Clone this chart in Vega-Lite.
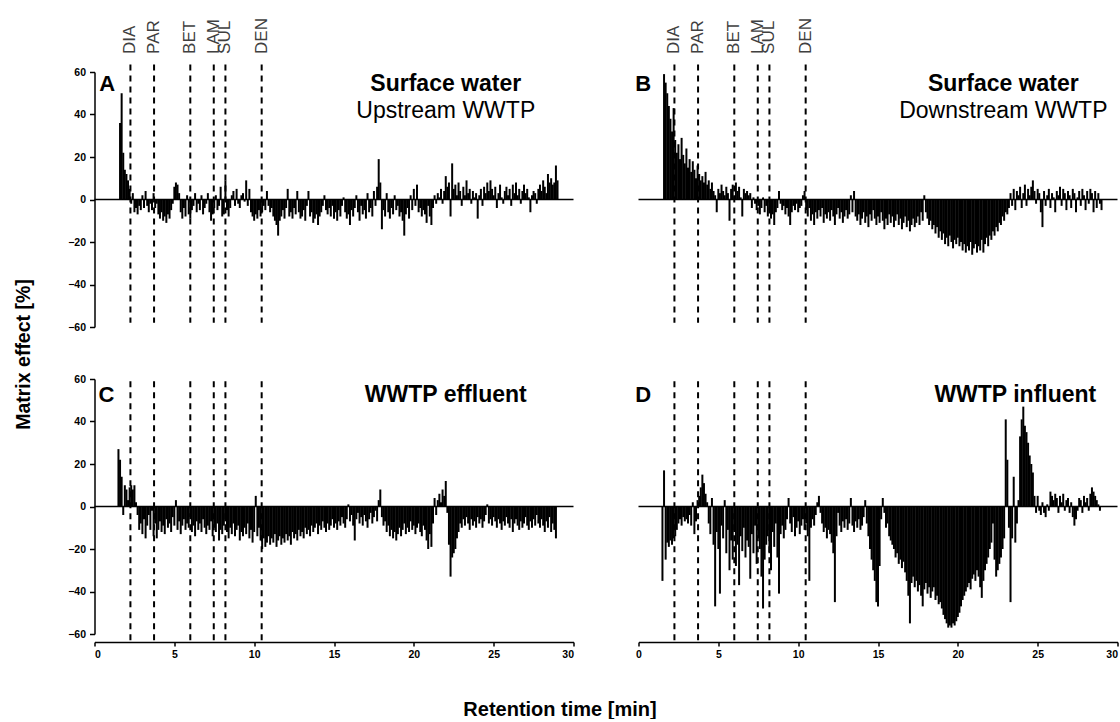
{
"$schema": "https://vega.github.io/schema/vega-lite/v6.json",
"background": "white",
"padding": {"left": 13.5, "top": 18, "right": 0, "bottom": 0},
"config": {
  "view": {"stroke": null},
  "axis": {"labelFont": "Liberation Sans", "labelFontWeight": "bold", "labelFontSize": 10.5, "labelColor": "black", "domainColor": "black", "domainWidth": 1.5, "tickColor": "black", "tickWidth": 1.5, "tickSize": 5, "labelPadding": 4, "grid": false, "titleColor": "black", "titleFont": "Liberation Sans", "titleFontWeight": "bold"},
  "text": {"font": "Liberation Sans", "color": "black"}
},
"datasets": {
"cmp": [{"n":"DIA","t":2.25},{"n":"PAR","t":3.73},{"n":"BET","t":6.0},{"n":"LAM","t":7.47},{"n":"SUL","t":8.2},{"n":"DEN","t":10.47}],
"txt": [
 {"p":"A","k":"l","t":0.3,"y":51,"s":"A"},
 {"p":"A","k":"b","t":22.0,"y":51,"s":"Surface water"},
 {"p":"A","k":"r","t":22.0,"y":38.2,"s":"Upstream WWTP"},
 {"p":"B","k":"l","t":-0.2,"y":51,"s":"B"},
 {"p":"B","k":"b","t":22.85,"y":51,"s":"Surface water"},
 {"p":"B","k":"r","t":22.85,"y":38.2,"s":"Downstream WWTP"},
 {"p":"C","k":"l","t":0.25,"y":49.4,"s":"C"},
 {"p":"C","k":"b","t":22.0,"y":49.4,"s":"WWTP effluent"},
 {"p":"D","k":"l","t":-0.2,"y":49.4,"s":"D"},
 {"p":"D","k":"b","t":23.6,"y":49.4,"s":"WWTP influent"}
],
"A": [{"t":1.6,"v":36},{"t":1.7,"v":50},{"t":1.8,"v":22},{"t":1.9,"v":14},{"t":2.0,"v":12},{"t":2.1,"v":9},{"t":2.2,"v":5},{"t":2.3,"v":-2},{"t":2.4,"v":3},{"t":2.5,"v":-6},{"t":2.6,"v":-4},{"t":2.7,"v":-7},{"t":2.8,"v":-3},{"t":2.9,"v":-5},{"t":3.0,"v":2},{"t":3.1,"v":-4},{"t":3.2,"v":4},{"t":3.3,"v":-3},{"t":3.4,"v":-6},{"t":3.5,"v":-2},{"t":3.6,"v":-5},{"t":3.7,"v":3},{"t":3.8,"v":-4},{"t":3.9,"v":-2},{"t":4.0,"v":-7},{"t":4.1,"v":-9},{"t":4.2,"v":-6},{"t":4.3,"v":-10},{"t":4.4,"v":-8},{"t":4.5,"v":-11},{"t":4.6,"v":-7},{"t":4.7,"v":-9},{"t":4.8,"v":-5},{"t":4.9,"v":-2},{"t":5.0,"v":6},{"t":5.1,"v":8},{"t":5.2,"v":7},{"t":5.3,"v":3},{"t":5.4,"v":-6},{"t":5.5,"v":-9},{"t":5.6,"v":-4},{"t":5.7,"v":-8},{"t":5.8,"v":2},{"t":5.9,"v":-7},{"t":6.0,"v":-9},{"t":6.1,"v":-5},{"t":6.2,"v":-3},{"t":6.3,"v":3},{"t":6.4,"v":-6},{"t":6.5,"v":-2},{"t":6.6,"v":-5},{"t":6.7,"v":2},{"t":6.8,"v":-7},{"t":6.9,"v":-4},{"t":7.0,"v":-2},{"t":7.1,"v":3},{"t":7.2,"v":-6},{"t":7.3,"v":-10},{"t":7.4,"v":-7},{"t":7.5,"v":-4},{"t":7.6,"v":2},{"t":7.7,"v":-5},{"t":7.8,"v":-3},{"t":7.9,"v":6},{"t":8.0,"v":-8},{"t":8.1,"v":-7},{"t":8.2,"v":9},{"t":8.3,"v":-5},{"t":8.4,"v":-8},{"t":8.5,"v":-4},{"t":8.6,"v":2},{"t":8.7,"v":4},{"t":8.8,"v":-3},{"t":8.9,"v":5},{"t":9.0,"v":-2},{"t":9.1,"v":-4},{"t":9.2,"v":2},{"t":9.3,"v":3},{"t":9.4,"v":-1},{"t":9.5,"v":9},{"t":9.6,"v":-3},{"t":9.7,"v":5},{"t":9.8,"v":-6},{"t":9.9,"v":-8},{"t":10.0,"v":-10},{"t":10.1,"v":-7},{"t":10.2,"v":-9},{"t":10.3,"v":-5},{"t":10.4,"v":-8},{"t":10.5,"v":-6},{"t":10.6,"v":-3},{"t":10.7,"v":-5},{"t":10.8,"v":4},{"t":10.9,"v":-3},{"t":11.0,"v":-6},{"t":11.1,"v":-4},{"t":11.2,"v":-8},{"t":11.3,"v":-10},{"t":11.4,"v":-12},{"t":11.5,"v":-17},{"t":11.6,"v":-10},{"t":11.7,"v":-8},{"t":11.8,"v":-5},{"t":11.9,"v":-9},{"t":12.0,"v":-4},{"t":12.1,"v":5},{"t":12.2,"v":-8},{"t":12.3,"v":-6},{"t":12.4,"v":-9},{"t":12.5,"v":-4},{"t":12.6,"v":-7},{"t":12.7,"v":4},{"t":12.8,"v":-6},{"t":12.9,"v":-9},{"t":13.0,"v":-8},{"t":13.1,"v":-5},{"t":13.2,"v":-10},{"t":13.3,"v":-3},{"t":13.4,"v":4},{"t":13.5,"v":-8},{"t":13.6,"v":-6},{"t":13.7,"v":-11},{"t":13.8,"v":-9},{"t":13.9,"v":-7},{"t":14.0,"v":-12},{"t":14.1,"v":-8},{"t":14.2,"v":-6},{"t":14.3,"v":-3},{"t":14.4,"v":2},{"t":14.5,"v":-5},{"t":14.6,"v":-7},{"t":14.7,"v":-4},{"t":14.8,"v":-8},{"t":14.9,"v":-3},{"t":15.0,"v":-9},{"t":15.1,"v":-6},{"t":15.2,"v":-10},{"t":15.3,"v":-5},{"t":15.4,"v":-8},{"t":15.5,"v":-3},{"t":15.6,"v":1},{"t":15.7,"v":-6},{"t":15.8,"v":-9},{"t":15.9,"v":-7},{"t":16.0,"v":-12},{"t":16.1,"v":-5},{"t":16.2,"v":-8},{"t":16.3,"v":-4},{"t":16.4,"v":2},{"t":16.5,"v":-6},{"t":16.6,"v":-10},{"t":16.7,"v":-3},{"t":16.8,"v":-7},{"t":16.9,"v":-5},{"t":17.0,"v":-9},{"t":17.1,"v":3},{"t":17.2,"v":-6},{"t":17.3,"v":-4},{"t":17.4,"v":-8},{"t":17.5,"v":4},{"t":17.6,"v":-3},{"t":17.7,"v":6},{"t":17.8,"v":19},{"t":17.9,"v":8},{"t":18.0,"v":-14},{"t":18.1,"v":-5},{"t":18.2,"v":-8},{"t":18.3,"v":3},{"t":18.4,"v":-6},{"t":18.5,"v":-9},{"t":18.6,"v":-4},{"t":18.7,"v":-7},{"t":18.8,"v":2},{"t":18.9,"v":-5},{"t":19.0,"v":-3},{"t":19.1,"v":-8},{"t":19.2,"v":-6},{"t":19.3,"v":-10},{"t":19.4,"v":-17},{"t":19.5,"v":-7},{"t":19.6,"v":-4},{"t":19.7,"v":-9},{"t":19.8,"v":2},{"t":19.9,"v":-5},{"t":20.0,"v":5},{"t":20.1,"v":-3},{"t":20.2,"v":7},{"t":20.3,"v":-6},{"t":20.4,"v":-4},{"t":20.5,"v":-8},{"t":20.6,"v":-5},{"t":20.7,"v":-7},{"t":20.8,"v":-11},{"t":20.9,"v":-3},{"t":21.0,"v":-8},{"t":21.1,"v":-12},{"t":21.2,"v":-4},{"t":21.3,"v":2},{"t":21.4,"v":-2},{"t":21.5,"v":3},{"t":21.6,"v":1},{"t":21.7,"v":5},{"t":21.8,"v":-2},{"t":21.9,"v":4},{"t":22.0,"v":11},{"t":22.1,"v":6},{"t":22.2,"v":8},{"t":22.3,"v":-8},{"t":22.4,"v":17},{"t":22.5,"v":5},{"t":22.6,"v":7},{"t":22.7,"v":2},{"t":22.8,"v":8},{"t":22.9,"v":4},{"t":23.0,"v":-3},{"t":23.1,"v":6},{"t":23.2,"v":2},{"t":23.3,"v":9},{"t":23.4,"v":3},{"t":23.5,"v":5},{"t":23.6,"v":-2},{"t":23.7,"v":4},{"t":23.8,"v":1},{"t":23.9,"v":3},{"t":24.0,"v":-9},{"t":24.1,"v":2},{"t":24.2,"v":5},{"t":24.3,"v":-3},{"t":24.4,"v":6},{"t":24.5,"v":3},{"t":24.6,"v":8},{"t":24.7,"v":4},{"t":24.8,"v":9},{"t":24.9,"v":5},{"t":25.0,"v":2},{"t":25.1,"v":6},{"t":25.2,"v":-4},{"t":25.3,"v":3},{"t":25.4,"v":7},{"t":25.5,"v":1},{"t":25.6,"v":-2},{"t":25.7,"v":4},{"t":25.8,"v":6},{"t":25.9,"v":2},{"t":26.0,"v":5},{"t":26.1,"v":-3},{"t":26.2,"v":7},{"t":26.3,"v":3},{"t":26.4,"v":8},{"t":26.5,"v":2},{"t":26.6,"v":5},{"t":26.7,"v":-2},{"t":26.8,"v":4},{"t":26.9,"v":7},{"t":27.0,"v":3},{"t":27.1,"v":5},{"t":27.2,"v":1},{"t":27.3,"v":-6},{"t":27.4,"v":2},{"t":27.5,"v":4},{"t":27.6,"v":3},{"t":27.7,"v":-2},{"t":27.8,"v":5},{"t":27.9,"v":7},{"t":28.0,"v":4},{"t":28.1,"v":9},{"t":28.2,"v":6},{"t":28.3,"v":3},{"t":28.4,"v":12},{"t":28.5,"v":8},{"t":28.6,"v":10},{"t":28.7,"v":7},{"t":28.8,"v":8},{"t":28.9,"v":16},{"t":29.0,"v":9}],
"B": [{"t":1.6,"v":59},{"t":1.7,"v":55},{"t":1.8,"v":50},{"t":1.9,"v":44},{"t":2.0,"v":38},{"t":2.1,"v":32},{"t":2.2,"v":43},{"t":2.3,"v":28},{"t":2.4,"v":22},{"t":2.5,"v":26},{"t":2.6,"v":19},{"t":2.7,"v":29},{"t":2.8,"v":21},{"t":2.9,"v":17},{"t":3.0,"v":24},{"t":3.1,"v":15},{"t":3.2,"v":19},{"t":3.3,"v":13},{"t":3.4,"v":18},{"t":3.5,"v":14},{"t":3.6,"v":10},{"t":3.7,"v":16},{"t":3.8,"v":12},{"t":3.9,"v":9},{"t":4.0,"v":11},{"t":4.1,"v":8},{"t":4.2,"v":13},{"t":4.3,"v":7},{"t":4.4,"v":9},{"t":4.5,"v":5},{"t":4.6,"v":8},{"t":4.7,"v":4},{"t":4.8,"v":2},{"t":4.9,"v":-6},{"t":5.0,"v":5},{"t":5.1,"v":3},{"t":5.2,"v":7},{"t":5.3,"v":4},{"t":5.4,"v":2},{"t":5.5,"v":6},{"t":5.6,"v":3},{"t":5.7,"v":-10},{"t":5.8,"v":5},{"t":5.9,"v":7},{"t":6.0,"v":2},{"t":6.1,"v":8},{"t":6.2,"v":4},{"t":6.3,"v":6},{"t":6.4,"v":1},{"t":6.5,"v":-8},{"t":6.6,"v":5},{"t":6.7,"v":3},{"t":6.8,"v":4},{"t":6.9,"v":2},{"t":7.0,"v":3},{"t":7.1,"v":-4},{"t":7.2,"v":1},{"t":7.3,"v":-2},{"t":7.4,"v":-5},{"t":7.5,"v":-3},{"t":7.6,"v":-7},{"t":7.7,"v":-4},{"t":7.8,"v":1},{"t":7.9,"v":-6},{"t":8.0,"v":-3},{"t":8.1,"v":-8},{"t":8.2,"v":-5},{"t":8.3,"v":-9},{"t":8.4,"v":-7},{"t":8.5,"v":-12},{"t":8.6,"v":-6},{"t":8.7,"v":-4},{"t":8.8,"v":4},{"t":8.9,"v":-2},{"t":9.0,"v":-5},{"t":9.1,"v":-3},{"t":9.2,"v":-7},{"t":9.3,"v":-4},{"t":9.4,"v":-8},{"t":9.5,"v":-12},{"t":9.6,"v":-6},{"t":9.7,"v":-3},{"t":9.8,"v":-5},{"t":9.9,"v":-2},{"t":10.0,"v":-6},{"t":10.1,"v":-4},{"t":10.2,"v":-3},{"t":10.3,"v":2},{"t":10.4,"v":4},{"t":10.5,"v":-5},{"t":10.6,"v":-8},{"t":10.7,"v":-4},{"t":10.8,"v":-10},{"t":10.9,"v":-7},{"t":11.0,"v":-12},{"t":11.1,"v":-6},{"t":11.2,"v":-9},{"t":11.3,"v":-5},{"t":11.4,"v":-8},{"t":11.5,"v":-4},{"t":11.6,"v":-11},{"t":11.7,"v":-7},{"t":11.8,"v":-9},{"t":11.9,"v":-6},{"t":12.0,"v":-10},{"t":12.1,"v":-5},{"t":12.2,"v":-8},{"t":12.3,"v":-12},{"t":12.4,"v":-7},{"t":12.5,"v":-4},{"t":12.6,"v":-9},{"t":12.7,"v":-6},{"t":12.8,"v":-11},{"t":12.9,"v":-8},{"t":13.0,"v":-5},{"t":13.1,"v":-9},{"t":13.2,"v":-7},{"t":13.3,"v":2},{"t":13.4,"v":-6},{"t":13.5,"v":4},{"t":13.6,"v":-8},{"t":13.7,"v":-10},{"t":13.8,"v":-7},{"t":13.9,"v":-12},{"t":14.0,"v":-9},{"t":14.1,"v":-6},{"t":14.2,"v":-11},{"t":14.3,"v":-8},{"t":14.4,"v":-13},{"t":14.5,"v":-7},{"t":14.6,"v":-10},{"t":14.7,"v":-5},{"t":14.8,"v":-9},{"t":14.9,"v":-12},{"t":15.0,"v":-8},{"t":15.1,"v":-11},{"t":15.2,"v":-6},{"t":15.3,"v":-10},{"t":15.4,"v":-14},{"t":15.5,"v":-9},{"t":15.6,"v":-12},{"t":15.7,"v":-7},{"t":15.8,"v":-11},{"t":15.9,"v":-8},{"t":16.0,"v":-13},{"t":16.1,"v":-10},{"t":16.2,"v":-7},{"t":16.3,"v":-12},{"t":16.4,"v":-9},{"t":16.5,"v":-14},{"t":16.6,"v":-11},{"t":16.7,"v":-8},{"t":16.8,"v":-13},{"t":16.9,"v":-10},{"t":17.0,"v":-15},{"t":17.1,"v":-12},{"t":17.2,"v":-9},{"t":17.3,"v":-13},{"t":17.4,"v":-11},{"t":17.5,"v":-8},{"t":17.6,"v":-12},{"t":17.7,"v":-6},{"t":17.8,"v":-10},{"t":17.9,"v":2},{"t":18.0,"v":-6},{"t":18.1,"v":-9},{"t":18.2,"v":-12},{"t":18.3,"v":-10},{"t":18.4,"v":-14},{"t":18.5,"v":-12},{"t":18.6,"v":-16},{"t":18.7,"v":-13},{"t":18.8,"v":-18},{"t":18.9,"v":-15},{"t":19.0,"v":-19},{"t":19.1,"v":-16},{"t":19.2,"v":-21},{"t":19.3,"v":-18},{"t":19.4,"v":-22},{"t":19.5,"v":-17},{"t":19.6,"v":-20},{"t":19.7,"v":-23},{"t":19.8,"v":-19},{"t":19.9,"v":-21},{"t":20.0,"v":-18},{"t":20.1,"v":-22},{"t":20.2,"v":-20},{"t":20.3,"v":-24},{"t":20.4,"v":-21},{"t":20.5,"v":-25},{"t":20.6,"v":-22},{"t":20.7,"v":-24},{"t":20.8,"v":-20},{"t":20.9,"v":-26},{"t":21.0,"v":-23},{"t":21.1,"v":-21},{"t":21.2,"v":-25},{"t":21.3,"v":-22},{"t":21.4,"v":-24},{"t":21.5,"v":-19},{"t":21.6,"v":-25},{"t":21.7,"v":-21},{"t":21.8,"v":-18},{"t":21.9,"v":-22},{"t":22.0,"v":-17},{"t":22.1,"v":-19},{"t":22.2,"v":-15},{"t":22.3,"v":-17},{"t":22.4,"v":-13},{"t":22.5,"v":-15},{"t":22.6,"v":-11},{"t":22.7,"v":-12},{"t":22.8,"v":-8},{"t":22.9,"v":-10},{"t":23.0,"v":-6},{"t":23.1,"v":-7},{"t":23.2,"v":-4},{"t":23.3,"v":3},{"t":23.4,"v":-3},{"t":23.5,"v":5},{"t":23.6,"v":-5},{"t":23.7,"v":4},{"t":23.8,"v":2},{"t":23.9,"v":6},{"t":24.0,"v":-4},{"t":24.1,"v":3},{"t":24.2,"v":7},{"t":24.3,"v":-3},{"t":24.4,"v":5},{"t":24.5,"v":2},{"t":24.6,"v":6},{"t":24.7,"v":9},{"t":24.8,"v":4},{"t":24.9,"v":-2},{"t":25.0,"v":5},{"t":25.1,"v":3},{"t":25.2,"v":-6},{"t":25.3,"v":-13},{"t":25.4,"v":4},{"t":25.5,"v":-3},{"t":25.6,"v":2},{"t":25.7,"v":5},{"t":25.8,"v":-4},{"t":25.9,"v":3},{"t":26.0,"v":1},{"t":26.1,"v":-6},{"t":26.2,"v":4},{"t":26.3,"v":2},{"t":26.4,"v":6},{"t":26.5,"v":-3},{"t":26.6,"v":5},{"t":26.7,"v":3},{"t":26.8,"v":-5},{"t":26.9,"v":4},{"t":27.0,"v":2},{"t":27.1,"v":-4},{"t":27.2,"v":5},{"t":27.3,"v":3},{"t":27.4,"v":-6},{"t":27.5,"v":1},{"t":27.6,"v":4},{"t":27.7,"v":-3},{"t":27.8,"v":5},{"t":27.9,"v":2},{"t":28.0,"v":-5},{"t":28.1,"v":4},{"t":28.2,"v":-2},{"t":28.3,"v":5},{"t":28.4,"v":3},{"t":28.5,"v":-6},{"t":28.6,"v":4},{"t":28.7,"v":-4},{"t":28.8,"v":3},{"t":28.9,"v":-2},{"t":29.0,"v":-5}],
"C": [{"t":1.5,"v":27},{"t":1.6,"v":22},{"t":1.7,"v":14},{"t":1.8,"v":-4},{"t":1.9,"v":10},{"t":2.0,"v":8},{"t":2.1,"v":3},{"t":2.2,"v":9},{"t":2.3,"v":10},{"t":2.4,"v":8},{"t":2.5,"v":10},{"t":2.6,"v":2},{"t":2.7,"v":-4},{"t":2.8,"v":-11},{"t":2.9,"v":-8},{"t":3.0,"v":-13},{"t":3.1,"v":-6},{"t":3.2,"v":-15},{"t":3.3,"v":-9},{"t":3.4,"v":-4},{"t":3.5,"v":-11},{"t":3.6,"v":-2},{"t":3.7,"v":-14},{"t":3.8,"v":-8},{"t":3.9,"v":-15},{"t":4.0,"v":-11},{"t":4.1,"v":-7},{"t":4.2,"v":-12},{"t":4.3,"v":-9},{"t":4.4,"v":-13},{"t":4.5,"v":-6},{"t":4.6,"v":-10},{"t":4.7,"v":-8},{"t":4.8,"v":-12},{"t":4.9,"v":-5},{"t":5.0,"v":-9},{"t":5.1,"v":3},{"t":5.2,"v":-11},{"t":5.3,"v":-7},{"t":5.4,"v":-13},{"t":5.5,"v":-9},{"t":5.6,"v":-6},{"t":5.7,"v":-11},{"t":5.8,"v":-8},{"t":5.9,"v":-10},{"t":6.0,"v":-5},{"t":6.1,"v":-12},{"t":6.2,"v":-9},{"t":6.3,"v":-14},{"t":6.4,"v":-7},{"t":6.5,"v":-11},{"t":6.6,"v":-8},{"t":6.7,"v":-12},{"t":6.8,"v":-6},{"t":6.9,"v":-10},{"t":7.0,"v":-13},{"t":7.1,"v":-9},{"t":7.2,"v":-11},{"t":7.3,"v":-7},{"t":7.4,"v":-14},{"t":7.5,"v":-10},{"t":7.6,"v":-12},{"t":7.7,"v":-8},{"t":7.8,"v":-16},{"t":7.9,"v":-11},{"t":8.0,"v":-13},{"t":8.1,"v":-9},{"t":8.2,"v":-7},{"t":8.3,"v":-12},{"t":8.4,"v":-15},{"t":8.5,"v":-10},{"t":8.6,"v":-13},{"t":8.7,"v":-8},{"t":8.8,"v":-14},{"t":8.9,"v":-11},{"t":9.0,"v":-9},{"t":9.1,"v":-16},{"t":9.2,"v":-12},{"t":9.3,"v":-14},{"t":9.4,"v":-10},{"t":9.5,"v":-13},{"t":9.6,"v":-8},{"t":9.7,"v":-15},{"t":9.8,"v":-11},{"t":9.9,"v":-17},{"t":10.0,"v":-12},{"t":10.1,"v":5},{"t":10.2,"v":-14},{"t":10.3,"v":-10},{"t":10.4,"v":-16},{"t":10.5,"v":-20},{"t":10.6,"v":-15},{"t":10.7,"v":-19},{"t":10.8,"v":-17},{"t":10.9,"v":-14},{"t":11.0,"v":-18},{"t":11.1,"v":-15},{"t":11.2,"v":-17},{"t":11.3,"v":-13},{"t":11.4,"v":-19},{"t":11.5,"v":-16},{"t":11.6,"v":-14},{"t":11.7,"v":-18},{"t":11.8,"v":-15},{"t":11.9,"v":-17},{"t":12.0,"v":-13},{"t":12.1,"v":-16},{"t":12.2,"v":-14},{"t":12.3,"v":-18},{"t":12.4,"v":-12},{"t":12.5,"v":-15},{"t":12.6,"v":-13},{"t":12.7,"v":-16},{"t":12.8,"v":-11},{"t":12.9,"v":-14},{"t":13.0,"v":-12},{"t":13.1,"v":-15},{"t":13.2,"v":-10},{"t":13.3,"v":-13},{"t":13.4,"v":-11},{"t":13.5,"v":-14},{"t":13.6,"v":-9},{"t":13.7,"v":-12},{"t":13.8,"v":-10},{"t":13.9,"v":-8},{"t":14.0,"v":-13},{"t":14.1,"v":-9},{"t":14.2,"v":-11},{"t":14.3,"v":-7},{"t":14.4,"v":-10},{"t":14.5,"v":-12},{"t":14.6,"v":-8},{"t":14.7,"v":-11},{"t":14.8,"v":-9},{"t":14.9,"v":-6},{"t":15.0,"v":-10},{"t":15.1,"v":-8},{"t":15.2,"v":-11},{"t":15.3,"v":-7},{"t":15.4,"v":-9},{"t":15.5,"v":-5},{"t":15.6,"v":-8},{"t":15.7,"v":-10},{"t":15.8,"v":-6},{"t":15.9,"v":1},{"t":16.0,"v":-7},{"t":16.1,"v":-4},{"t":16.2,"v":-9},{"t":16.3,"v":-16},{"t":16.4,"v":-6},{"t":16.5,"v":-3},{"t":16.6,"v":-8},{"t":16.7,"v":-5},{"t":16.8,"v":-9},{"t":16.9,"v":-4},{"t":17.0,"v":-7},{"t":17.1,"v":-10},{"t":17.2,"v":-6},{"t":17.3,"v":-3},{"t":17.4,"v":-8},{"t":17.5,"v":-5},{"t":17.6,"v":-2},{"t":17.7,"v":-7},{"t":17.8,"v":3},{"t":17.9,"v":8},{"t":18.0,"v":-5},{"t":18.1,"v":-9},{"t":18.2,"v":-7},{"t":18.3,"v":-12},{"t":18.4,"v":-9},{"t":18.5,"v":-14},{"t":18.6,"v":-11},{"t":18.7,"v":-15},{"t":18.8,"v":-12},{"t":18.9,"v":-16},{"t":19.0,"v":-13},{"t":19.1,"v":-10},{"t":19.2,"v":-14},{"t":19.3,"v":-11},{"t":19.4,"v":-8},{"t":19.5,"v":-13},{"t":19.6,"v":-10},{"t":19.7,"v":-12},{"t":19.8,"v":-7},{"t":19.9,"v":-11},{"t":20.0,"v":-9},{"t":20.1,"v":-13},{"t":20.2,"v":-10},{"t":20.3,"v":-8},{"t":20.4,"v":-12},{"t":20.5,"v":-14},{"t":20.6,"v":-9},{"t":20.7,"v":-11},{"t":20.8,"v":-16},{"t":20.9,"v":-20},{"t":21.0,"v":-13},{"t":21.1,"v":-19},{"t":21.2,"v":-8},{"t":21.3,"v":4},{"t":21.4,"v":-4},{"t":21.5,"v":3},{"t":21.6,"v":6},{"t":21.7,"v":2},{"t":21.8,"v":8},{"t":21.9,"v":5},{"t":22.0,"v":12},{"t":22.1,"v":-3},{"t":22.2,"v":-18},{"t":22.3,"v":-33},{"t":22.4,"v":-24},{"t":22.5,"v":-22},{"t":22.6,"v":-20},{"t":22.7,"v":-15},{"t":22.8,"v":-12},{"t":22.9,"v":-8},{"t":23.0,"v":-10},{"t":23.1,"v":-6},{"t":23.2,"v":-9},{"t":23.3,"v":-5},{"t":23.4,"v":-8},{"t":23.5,"v":-11},{"t":23.6,"v":-6},{"t":23.7,"v":-9},{"t":23.8,"v":-7},{"t":23.9,"v":-10},{"t":24.0,"v":-5},{"t":24.1,"v":-8},{"t":24.2,"v":-6},{"t":24.3,"v":-10},{"t":24.4,"v":-7},{"t":24.5,"v":-4},{"t":24.6,"v":1},{"t":24.7,"v":-8},{"t":24.8,"v":-6},{"t":24.9,"v":-9},{"t":25.0,"v":-5},{"t":25.1,"v":-7},{"t":25.2,"v":-10},{"t":25.3,"v":-6},{"t":25.4,"v":-8},{"t":25.5,"v":-11},{"t":25.6,"v":-7},{"t":25.7,"v":-9},{"t":25.8,"v":-5},{"t":25.9,"v":-8},{"t":26.0,"v":-10},{"t":26.1,"v":-6},{"t":26.2,"v":-12},{"t":26.3,"v":-8},{"t":26.4,"v":-6},{"t":26.5,"v":-9},{"t":26.6,"v":-11},{"t":26.7,"v":-7},{"t":26.8,"v":-10},{"t":26.9,"v":-8},{"t":27.0,"v":-5},{"t":27.1,"v":-9},{"t":27.2,"v":-11},{"t":27.3,"v":-7},{"t":27.4,"v":-10},{"t":27.5,"v":-6},{"t":27.6,"v":-9},{"t":27.7,"v":-4},{"t":27.8,"v":-8},{"t":27.9,"v":-10},{"t":28.0,"v":-6},{"t":28.1,"v":-9},{"t":28.2,"v":-12},{"t":28.3,"v":-7},{"t":28.4,"v":-10},{"t":28.5,"v":-5},{"t":28.6,"v":-12},{"t":28.7,"v":-8},{"t":28.8,"v":-11},{"t":28.9,"v":-15}],
"D": [{"t":1.5,"v":-35},{"t":1.6,"v":17},{"t":1.7,"v":-25},{"t":1.8,"v":-17},{"t":1.9,"v":-19},{"t":2.0,"v":-16},{"t":2.1,"v":-18},{"t":2.2,"v":-15},{"t":2.3,"v":-14},{"t":2.4,"v":-11},{"t":2.5,"v":-8},{"t":2.6,"v":-6},{"t":2.7,"v":-9},{"t":2.8,"v":-5},{"t":2.9,"v":-7},{"t":3.0,"v":-6},{"t":3.1,"v":-8},{"t":3.2,"v":-4},{"t":3.3,"v":-9},{"t":3.4,"v":2},{"t":3.5,"v":-13},{"t":3.6,"v":-7},{"t":3.7,"v":3},{"t":3.8,"v":5},{"t":3.9,"v":9},{"t":4.0,"v":15},{"t":4.1,"v":11},{"t":4.2,"v":6},{"t":4.3,"v":2},{"t":4.4,"v":-8},{"t":4.5,"v":-13},{"t":4.6,"v":4},{"t":4.7,"v":-18},{"t":4.8,"v":-47},{"t":4.9,"v":-12},{"t":5.0,"v":-20},{"t":5.1,"v":-41},{"t":5.2,"v":-9},{"t":5.3,"v":-15},{"t":5.4,"v":3},{"t":5.5,"v":-22},{"t":5.6,"v":-11},{"t":5.7,"v":-30},{"t":5.8,"v":-16},{"t":5.9,"v":-25},{"t":6.0,"v":-12},{"t":6.1,"v":-28},{"t":6.2,"v":-18},{"t":6.3,"v":-37},{"t":6.4,"v":-14},{"t":6.5,"v":-21},{"t":6.6,"v":-10},{"t":6.7,"v":-24},{"t":6.8,"v":-16},{"t":6.9,"v":-19},{"t":7.0,"v":-34},{"t":7.1,"v":-13},{"t":7.2,"v":-22},{"t":7.3,"v":-9},{"t":7.4,"v":-27},{"t":7.5,"v":-15},{"t":7.6,"v":-20},{"t":7.7,"v":-33},{"t":7.8,"v":-48},{"t":7.9,"v":-25},{"t":8.0,"v":-18},{"t":8.1,"v":-14},{"t":8.2,"v":-22},{"t":8.3,"v":-30},{"t":8.4,"v":-12},{"t":8.5,"v":-19},{"t":8.6,"v":-8},{"t":8.7,"v":-24},{"t":8.8,"v":-41},{"t":8.9,"v":-13},{"t":9.0,"v":-9},{"t":9.1,"v":-15},{"t":9.2,"v":-11},{"t":9.3,"v":-6},{"t":9.4,"v":4},{"t":9.5,"v":-8},{"t":9.6,"v":-12},{"t":9.7,"v":-5},{"t":9.8,"v":-14},{"t":9.9,"v":-10},{"t":10.0,"v":-7},{"t":10.1,"v":-13},{"t":10.2,"v":-9},{"t":10.3,"v":-6},{"t":10.4,"v":-11},{"t":10.5,"v":-8},{"t":10.6,"v":-14},{"t":10.7,"v":-35},{"t":10.8,"v":-10},{"t":10.9,"v":-6},{"t":11.0,"v":-9},{"t":11.1,"v":-4},{"t":11.2,"v":2},{"t":11.3,"v":5},{"t":11.4,"v":-3},{"t":11.5,"v":-8},{"t":11.6,"v":-12},{"t":11.7,"v":-10},{"t":11.8,"v":-15},{"t":11.9,"v":-11},{"t":12.0,"v":-13},{"t":12.1,"v":-17},{"t":12.2,"v":-22},{"t":12.3,"v":-45},{"t":12.4,"v":-14},{"t":12.5,"v":-3},{"t":12.6,"v":-9},{"t":12.7,"v":-12},{"t":12.8,"v":-7},{"t":12.9,"v":-10},{"t":13.0,"v":-6},{"t":13.1,"v":-11},{"t":13.2,"v":-8},{"t":13.3,"v":4},{"t":13.4,"v":-9},{"t":13.5,"v":-12},{"t":13.6,"v":-7},{"t":13.7,"v":-10},{"t":13.8,"v":-6},{"t":13.9,"v":-11},{"t":14.0,"v":-9},{"t":14.1,"v":-5},{"t":14.2,"v":3},{"t":14.3,"v":-8},{"t":14.4,"v":-14},{"t":14.5,"v":-20},{"t":14.6,"v":-25},{"t":14.7,"v":-30},{"t":14.8,"v":-35},{"t":14.9,"v":-45},{"t":15.0,"v":-47},{"t":15.1,"v":-28},{"t":15.2,"v":-6},{"t":15.3,"v":4},{"t":15.4,"v":-3},{"t":15.5,"v":-10},{"t":15.6,"v":-8},{"t":15.7,"v":-14},{"t":15.8,"v":-16},{"t":15.9,"v":-18},{"t":16.0,"v":-20},{"t":16.1,"v":-24},{"t":16.2,"v":-22},{"t":16.3,"v":-27},{"t":16.4,"v":-25},{"t":16.5,"v":-29},{"t":16.6,"v":-26},{"t":16.7,"v":-31},{"t":16.8,"v":-35},{"t":16.9,"v":-42},{"t":17.0,"v":-55},{"t":17.1,"v":-36},{"t":17.2,"v":-33},{"t":17.3,"v":-38},{"t":17.4,"v":-35},{"t":17.5,"v":-40},{"t":17.6,"v":-37},{"t":17.7,"v":-42},{"t":17.8,"v":-47},{"t":17.9,"v":-39},{"t":18.0,"v":-36},{"t":18.1,"v":-41},{"t":18.2,"v":-38},{"t":18.3,"v":-43},{"t":18.4,"v":-40},{"t":18.5,"v":-38},{"t":18.6,"v":-44},{"t":18.7,"v":-42},{"t":18.8,"v":-46},{"t":18.9,"v":-45},{"t":19.0,"v":-48},{"t":19.1,"v":-51},{"t":19.2,"v":-53},{"t":19.3,"v":-55},{"t":19.4,"v":-57},{"t":19.5,"v":-56},{"t":19.6,"v":-57},{"t":19.7,"v":-55},{"t":19.8,"v":-56},{"t":19.9,"v":-54},{"t":20.0,"v":-52},{"t":20.1,"v":-50},{"t":20.2,"v":-47},{"t":20.3,"v":-44},{"t":20.4,"v":-42},{"t":20.5,"v":-40},{"t":20.6,"v":-38},{"t":20.7,"v":-36},{"t":20.8,"v":-39},{"t":20.9,"v":-34},{"t":21.0,"v":-32},{"t":21.1,"v":-35},{"t":21.2,"v":-30},{"t":21.3,"v":-33},{"t":21.4,"v":-38},{"t":21.5,"v":-43},{"t":21.6,"v":-35},{"t":21.7,"v":-30},{"t":21.8,"v":-27},{"t":21.9,"v":-24},{"t":22.0,"v":-20},{"t":22.1,"v":-17},{"t":22.2,"v":-8},{"t":22.3,"v":-25},{"t":22.4,"v":-33},{"t":22.5,"v":-30},{"t":22.6,"v":-27},{"t":22.7,"v":-24},{"t":22.8,"v":-20},{"t":22.9,"v":-15},{"t":23.0,"v":41},{"t":23.1,"v":22},{"t":23.2,"v":-10},{"t":23.3,"v":-45},{"t":23.4,"v":-15},{"t":23.5,"v":14},{"t":23.6,"v":-17},{"t":23.7,"v":-8},{"t":23.8,"v":3},{"t":23.9,"v":33},{"t":24.0,"v":41},{"t":24.1,"v":47},{"t":24.2,"v":38},{"t":24.3,"v":35},{"t":24.4,"v":30},{"t":24.5,"v":24},{"t":24.6,"v":20},{"t":24.7,"v":16},{"t":24.8,"v":5},{"t":24.9,"v":-3},{"t":25.0,"v":5},{"t":25.1,"v":-2},{"t":25.2,"v":-4},{"t":25.3,"v":2},{"t":25.4,"v":-3},{"t":25.5,"v":-5},{"t":25.6,"v":1},{"t":25.7,"v":-2},{"t":25.8,"v":7},{"t":25.9,"v":5},{"t":26.0,"v":3},{"t":26.1,"v":6},{"t":26.2,"v":4},{"t":26.3,"v":-3},{"t":26.4,"v":5},{"t":26.5,"v":2},{"t":26.6,"v":6},{"t":26.7,"v":-2},{"t":26.8,"v":3},{"t":26.9,"v":4},{"t":27.0,"v":-3},{"t":27.1,"v":2},{"t":27.2,"v":-5},{"t":27.3,"v":-9},{"t":27.4,"v":-6},{"t":27.5,"v":-2},{"t":27.6,"v":4},{"t":27.7,"v":3},{"t":27.8,"v":-3},{"t":27.9,"v":5},{"t":28.0,"v":2},{"t":28.1,"v":4},{"t":28.2,"v":-2},{"t":28.3,"v":6},{"t":28.4,"v":9},{"t":28.5,"v":7},{"t":28.6,"v":5},{"t":28.7,"v":3},{"t":28.8,"v":1},{"t":28.9,"v":-2}]
},
"columns": 2,
"bounds": "flush",
"spacing": {"row": 52, "column": 65},
"concat": [
{
 "width": 479, "height": 255,
 "layer": [
  {"data": {"name": "A"}, "mark": {"type": "rule", "color": "black", "strokeWidth": 2},
   "encoding": {"x": {"field": "t", "type": "quantitative", "scale": {"domain": [0, 30]}, "axis": null},
    "y": {"field": "v", "type": "quantitative", "scale": {"domain": [-60, 60]}, "axis": {"values": [-60, -40, -20, 0, 20, 40, 60], "title": "Matrix effect [%]", "titleFontSize": 19.5, "titleX": -61, "titleY": 282, "titleAngle": -90, "titleAlign": "center", "titleBaseline": "bottom"}},
    "y2": {"datum": 0}}},
  {"data": {"values": [{}]}, "mark": {"type": "rule", "color": "black", "strokeWidth": 1.5},
   "encoding": {"y": {"datum": 0, "type": "quantitative", "scale": {"domain": [-60, 60]}, "axis": {"values": [-60, -40, -20, 0, 20, 40, 60], "title": "Matrix effect [%]", "titleFontSize": 19.5, "titleX": -61, "titleY": 282, "titleAngle": -90, "titleAlign": "center", "titleBaseline": "bottom"}}}},
  {"data": {"name": "cmp"}, "mark": {"type": "rule", "color": "black", "strokeWidth": 2, "strokeDash": [6, 5]},
   "encoding": {"x": {"field": "t", "type": "quantitative", "scale": {"domain": [0, 30]}, "axis": null},
    "y": {"datum": 63.5, "type": "quantitative", "scale": {"domain": [-60, 60]}, "axis": {"values": [-60, -40, -20, 0, 20, 40, 60], "title": "Matrix effect [%]", "titleFontSize": 19.5, "titleX": -61, "titleY": 282, "titleAngle": -90, "titleAlign": "center", "titleBaseline": "bottom"}}, "y2": {"datum": -58}}},
  {"data": {"name": "cmp"}, "mark": {"type": "text", "angle": 270, "align": "left", "baseline": "middle", "fontSize": 17, "color": "#404040"},
   "encoding": {"x": {"field": "t", "type": "quantitative", "scale": {"domain": [0, 30]}, "axis": null},
    "y": {"datum": 68.5, "type": "quantitative", "scale": {"domain": [-60, 60]}, "axis": {"values": [-60, -40, -20, 0, 20, 40, 60], "title": "Matrix effect [%]", "titleFontSize": 19.5, "titleX": -61, "titleY": 282, "titleAngle": -90, "titleAlign": "center", "titleBaseline": "bottom"}}, "text": {"field": "n"}}},
  {"data": {"name": "txt"}, "transform": [{"filter": "datum.p === 'A' && datum.k === 'l'"}],
   "mark": {"type": "text", "align": "left", "baseline": "alphabetic", "fontSize": 22, "fontWeight": "bold"},
   "encoding": {"x": {"field": "t", "type": "quantitative", "scale": {"domain": [0, 30]}, "axis": null},
    "y": {"field": "y", "type": "quantitative", "scale": {"domain": [-60, 60]}, "axis": {"values": [-60, -40, -20, 0, 20, 40, 60], "title": "Matrix effect [%]", "titleFontSize": 19.5, "titleX": -61, "titleY": 282, "titleAngle": -90, "titleAlign": "center", "titleBaseline": "bottom"}}, "text": {"field": "s"}}},
  {"data": {"name": "txt"}, "transform": [{"filter": "datum.p === 'A' && datum.k === 'b'"}],
   "mark": {"type": "text", "align": "center", "baseline": "alphabetic", "fontSize": 23, "fontWeight": "bold"},
   "encoding": {"x": {"field": "t", "type": "quantitative", "scale": {"domain": [0, 30]}, "axis": null},
    "y": {"field": "y", "type": "quantitative", "scale": {"domain": [-60, 60]}, "axis": {"values": [-60, -40, -20, 0, 20, 40, 60], "title": "Matrix effect [%]", "titleFontSize": 19.5, "titleX": -61, "titleY": 282, "titleAngle": -90, "titleAlign": "center", "titleBaseline": "bottom"}}, "text": {"field": "s"}}},
  {"data": {"name": "txt"}, "transform": [{"filter": "datum.p === 'A' && datum.k === 'r'"}],
   "mark": {"type": "text", "align": "center", "baseline": "alphabetic", "fontSize": 23},
   "encoding": {"x": {"field": "t", "type": "quantitative", "scale": {"domain": [0, 30]}, "axis": null},
    "y": {"field": "y", "type": "quantitative", "scale": {"domain": [-60, 60]}, "axis": {"values": [-60, -40, -20, 0, 20, 40, 60], "title": "Matrix effect [%]", "titleFontSize": 19.5, "titleX": -61, "titleY": 282, "titleAngle": -90, "titleAlign": "center", "titleBaseline": "bottom"}}, "text": {"field": "s"}}}
 ]
},
{
 "width": 479, "height": 255,
 "layer": [
  {"data": {"name": "B"}, "mark": {"type": "rule", "color": "black", "strokeWidth": 2},
   "encoding": {"x": {"field": "t", "type": "quantitative", "scale": {"domain": [0, 30]}, "axis": null},
    "y": {"field": "v", "type": "quantitative", "scale": {"domain": [-60, 60]}, "axis": null},
    "y2": {"datum": 0}}},
  {"data": {"values": [{}]}, "mark": {"type": "rule", "color": "black", "strokeWidth": 1.5},
   "encoding": {"y": {"datum": 0, "type": "quantitative", "scale": {"domain": [-60, 60]}, "axis": null}}},
  {"data": {"name": "cmp"}, "mark": {"type": "rule", "color": "black", "strokeWidth": 2, "strokeDash": [6, 5]},
   "encoding": {"x": {"field": "t", "type": "quantitative", "scale": {"domain": [0, 30]}, "axis": null},
    "y": {"datum": 63.5, "type": "quantitative", "scale": {"domain": [-60, 60]}, "axis": null}, "y2": {"datum": -58}}},
  {"data": {"name": "cmp"}, "mark": {"type": "text", "angle": 270, "align": "left", "baseline": "middle", "fontSize": 17, "color": "#404040"},
   "encoding": {"x": {"field": "t", "type": "quantitative", "scale": {"domain": [0, 30]}, "axis": null},
    "y": {"datum": 68.5, "type": "quantitative", "scale": {"domain": [-60, 60]}, "axis": null}, "text": {"field": "n"}}},
  {"data": {"name": "txt"}, "transform": [{"filter": "datum.p === 'B' && datum.k === 'l'"}],
   "mark": {"type": "text", "align": "left", "baseline": "alphabetic", "fontSize": 22, "fontWeight": "bold"},
   "encoding": {"x": {"field": "t", "type": "quantitative", "scale": {"domain": [0, 30]}, "axis": null},
    "y": {"field": "y", "type": "quantitative", "scale": {"domain": [-60, 60]}, "axis": null}, "text": {"field": "s"}}},
  {"data": {"name": "txt"}, "transform": [{"filter": "datum.p === 'B' && datum.k === 'b'"}],
   "mark": {"type": "text", "align": "center", "baseline": "alphabetic", "fontSize": 23, "fontWeight": "bold"},
   "encoding": {"x": {"field": "t", "type": "quantitative", "scale": {"domain": [0, 30]}, "axis": null},
    "y": {"field": "y", "type": "quantitative", "scale": {"domain": [-60, 60]}, "axis": null}, "text": {"field": "s"}}},
  {"data": {"name": "txt"}, "transform": [{"filter": "datum.p === 'B' && datum.k === 'r'"}],
   "mark": {"type": "text", "align": "center", "baseline": "alphabetic", "fontSize": 23},
   "encoding": {"x": {"field": "t", "type": "quantitative", "scale": {"domain": [0, 30]}, "axis": null},
    "y": {"field": "y", "type": "quantitative", "scale": {"domain": [-60, 60]}, "axis": null}, "text": {"field": "s"}}}
 ]
},
{
 "width": 479, "height": 255,
 "layer": [
  {"data": {"name": "C"}, "mark": {"type": "rule", "color": "black", "strokeWidth": 2},
   "encoding": {"x": {"field": "t", "type": "quantitative", "scale": {"domain": [0, 30]}, "axis": {"values": [0, 5, 10, 15, 20, 25, 30], "offset": 8, "tickSize": 4, "labelPadding": 3, "title": "Retention time [min]", "titleFontSize": 20, "titleX": 465, "titleY": 73, "titleAlign": "center", "titleBaseline": "alphabetic"}},
    "y": {"field": "v", "type": "quantitative", "scale": {"domain": [-60, 60]}, "axis": {"values": [-60, -40, -20, 0, 20, 40, 60], "title": null}},
    "y2": {"datum": 0}}},
  {"data": {"values": [{}]}, "mark": {"type": "rule", "color": "black", "strokeWidth": 1.5},
   "encoding": {"y": {"datum": 0, "type": "quantitative", "scale": {"domain": [-60, 60]}, "axis": {"values": [-60, -40, -20, 0, 20, 40, 60], "title": null}}}},
  {"data": {"name": "cmp"}, "mark": {"type": "rule", "color": "black", "strokeWidth": 2, "strokeDash": [6, 5]},
   "encoding": {"x": {"field": "t", "type": "quantitative", "scale": {"domain": [0, 30]}, "axis": {"values": [0, 5, 10, 15, 20, 25, 30], "offset": 8, "tickSize": 4, "labelPadding": 3, "title": "Retention time [min]", "titleFontSize": 20, "titleX": 465, "titleY": 73, "titleAlign": "center", "titleBaseline": "alphabetic"}},
    "y": {"datum": 59, "type": "quantitative", "scale": {"domain": [-60, 60]}, "axis": {"values": [-60, -40, -20, 0, 20, 40, 60], "title": null}}, "y2": {"datum": -63.5}}},
  {"data": {"name": "txt"}, "transform": [{"filter": "datum.p === 'C' && datum.k === 'l'"}],
   "mark": {"type": "text", "align": "left", "baseline": "alphabetic", "fontSize": 22, "fontWeight": "bold"},
   "encoding": {"x": {"field": "t", "type": "quantitative", "scale": {"domain": [0, 30]}, "axis": {"values": [0, 5, 10, 15, 20, 25, 30], "offset": 8, "tickSize": 4, "labelPadding": 3, "title": "Retention time [min]", "titleFontSize": 20, "titleX": 465, "titleY": 73, "titleAlign": "center", "titleBaseline": "alphabetic"}},
    "y": {"field": "y", "type": "quantitative", "scale": {"domain": [-60, 60]}, "axis": {"values": [-60, -40, -20, 0, 20, 40, 60], "title": null}}, "text": {"field": "s"}}},
  {"data": {"name": "txt"}, "transform": [{"filter": "datum.p === 'C' && datum.k === 'b'"}],
   "mark": {"type": "text", "align": "center", "baseline": "alphabetic", "fontSize": 23, "fontWeight": "bold"},
   "encoding": {"x": {"field": "t", "type": "quantitative", "scale": {"domain": [0, 30]}, "axis": {"values": [0, 5, 10, 15, 20, 25, 30], "offset": 8, "tickSize": 4, "labelPadding": 3, "title": "Retention time [min]", "titleFontSize": 20, "titleX": 465, "titleY": 73, "titleAlign": "center", "titleBaseline": "alphabetic"}},
    "y": {"field": "y", "type": "quantitative", "scale": {"domain": [-60, 60]}, "axis": {"values": [-60, -40, -20, 0, 20, 40, 60], "title": null}}, "text": {"field": "s"}}}
 ]
},
{
 "width": 479, "height": 255,
 "layer": [
  {"data": {"name": "D"}, "mark": {"type": "rule", "color": "black", "strokeWidth": 2},
   "encoding": {"x": {"field": "t", "type": "quantitative", "scale": {"domain": [0, 30]}, "axis": {"values": [0, 5, 10, 15, 20, 25, 30], "offset": 8, "tickSize": 4, "labelPadding": 3, "labelAlign": {"condition": {"test": "datum.value === 30", "value": "right"}, "value": "center"}, "title": null}},
    "y": {"field": "v", "type": "quantitative", "scale": {"domain": [-60, 60]}, "axis": null},
    "y2": {"datum": 0}}},
  {"data": {"values": [{}]}, "mark": {"type": "rule", "color": "black", "strokeWidth": 1.5},
   "encoding": {"y": {"datum": 0, "type": "quantitative", "scale": {"domain": [-60, 60]}, "axis": null}}},
  {"data": {"name": "cmp"}, "mark": {"type": "rule", "color": "black", "strokeWidth": 2, "strokeDash": [6, 5]},
   "encoding": {"x": {"field": "t", "type": "quantitative", "scale": {"domain": [0, 30]}, "axis": {"values": [0, 5, 10, 15, 20, 25, 30], "offset": 8, "tickSize": 4, "labelPadding": 3, "labelAlign": {"condition": {"test": "datum.value === 30", "value": "right"}, "value": "center"}, "title": null}},
    "y": {"datum": 59, "type": "quantitative", "scale": {"domain": [-60, 60]}, "axis": null}, "y2": {"datum": -63.5}}},
  {"data": {"name": "txt"}, "transform": [{"filter": "datum.p === 'D' && datum.k === 'l'"}],
   "mark": {"type": "text", "align": "left", "baseline": "alphabetic", "fontSize": 22, "fontWeight": "bold"},
   "encoding": {"x": {"field": "t", "type": "quantitative", "scale": {"domain": [0, 30]}, "axis": {"values": [0, 5, 10, 15, 20, 25, 30], "offset": 8, "tickSize": 4, "labelPadding": 3, "labelAlign": {"condition": {"test": "datum.value === 30", "value": "right"}, "value": "center"}, "title": null}},
    "y": {"field": "y", "type": "quantitative", "scale": {"domain": [-60, 60]}, "axis": null}, "text": {"field": "s"}}},
  {"data": {"name": "txt"}, "transform": [{"filter": "datum.p === 'D' && datum.k === 'b'"}],
   "mark": {"type": "text", "align": "center", "baseline": "alphabetic", "fontSize": 23, "fontWeight": "bold"},
   "encoding": {"x": {"field": "t", "type": "quantitative", "scale": {"domain": [0, 30]}, "axis": {"values": [0, 5, 10, 15, 20, 25, 30], "offset": 8, "tickSize": 4, "labelPadding": 3, "labelAlign": {"condition": {"test": "datum.value === 30", "value": "right"}, "value": "center"}, "title": null}},
    "y": {"field": "y", "type": "quantitative", "scale": {"domain": [-60, 60]}, "axis": null}, "text": {"field": "s"}}}
 ]
}
]
}
